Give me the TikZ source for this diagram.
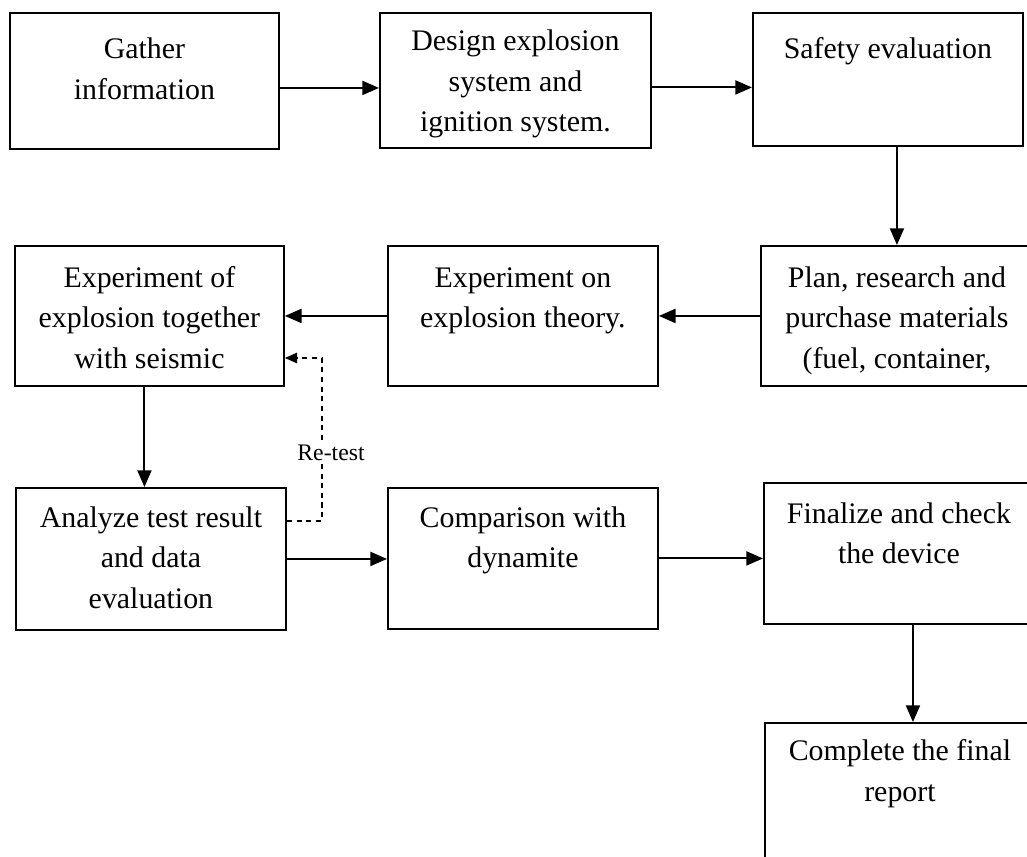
\documentclass[tikz,border=0pt]{standalone}
\usepackage{fontspec}
\setmainfont{Liberation Serif}
\usetikzlibrary{arrows.meta}

\tikzset{
  blk/.style={draw, line width=1.1pt, inner sep=0pt, anchor=north west},
  flow/.style={line width=1.1pt, -{Triangle[length=9.5pt,width=8pt]}},
  retest/.style={line width=0.8pt, dash pattern=on 3pt off 2.5pt, -{Triangle[length=7pt,width=6pt]}}
}
\newcommand{\blktext}[4][24pt]{\parbox[t][#3][t]{#2}{\centering\rule{0pt}{#1}#4}}

\begin{document}
\begin{tikzpicture}[x=0.02cm, y=-0.02cm, font=\fontsize{17}{23}\selectfont]
  \useasboundingbox (0,0) rectangle (1027,857);
  \clip (0,0) rectangle (1027,857);

  % top row
  \node[blk] (gather) at (9,12) {\blktext[26pt]{5.38cm}{2.72cm}{Gather\\information}};
  \node[blk] (design) at (379,12) {\blktext[21.5pt]{5.42cm}{2.7cm}{Design explosion\\system and\\ignition system.}};
  \node[blk] (safety) at (752,12) {\blktext[26pt]{5.4cm}{2.66cm}{Safety evaluation}};

  % second row
  \node[blk] (plan) at (760,245) {\blktext[23.5pt]{5.44cm}{2.8cm}{Plan, research and\\purchase materials\\(fuel, container,}};
  \node[blk] (expon) at (387,245) {\blktext[23.5pt]{5.4cm}{2.8cm}{Experiment on\\explosion theory.}};
  \node[blk] (expof) at (14,245) {\blktext[23.5pt]{5.38cm}{2.8cm}{Experiment of\\explosion together\\with seismic}};

  % third row
  \node[blk] (analyze) at (15,487) {\blktext[22.5pt]{5.4cm}{2.84cm}{Analyze test result\\and data\\evaluation}};
  \node[blk] (compare) at (387,487) {\blktext[22.5pt]{5.4cm}{2.82cm}{Comparison with\\dynamite}};
  \node[blk] (final) at (763,482) {\blktext[23pt]{5.4cm}{2.82cm}{Finalize and check\\the device}};

  % last box
  \node[blk] (report) at (764,722) {\blktext[21.5pt]{5.4cm}{3.2cm}{Complete the final\\report}};

  % arrows
  \draw[flow] ([yshift=-0.14cm]gather.east) -- ([yshift=-0.14cm]gather.east -| design.west);
  \draw[flow] ([yshift=-0.14cm]design.east) -- ([yshift=-0.14cm]design.east -| safety.west);
  \draw[flow] (safety.south -| plan.north) -- (plan.north);
  \draw[flow] (plan.west) -- (plan.west -| expon.east);
  \draw[flow] (expon.west) -- (expon.west -| expof.east);
  \draw[flow] ([xshift=-0.1cm]expof.south) -- ([xshift=-0.1cm]expof.south |- analyze.north);
  \draw[flow] (analyze.east) -- (analyze.east -| compare.west);
  \draw[flow] (compare.east) -- (compare.east -| final.west);
  \draw[flow] ([xshift=0.28cm]final.south) -- ([xshift=0.28cm]final.south |- report.north);

  % re-test loop
  \coordinate (bend) at (322,358);
  \draw[retest] ([yshift=0.76cm]analyze.east) -| (bend) -- (bend -| expof.east);
  \node[fill=white, inner sep=1pt, font=\fontsize{13.5}{16}\selectfont] (retestlbl) at (331,453) {Re-test};
\end{tikzpicture}
\end{document}
